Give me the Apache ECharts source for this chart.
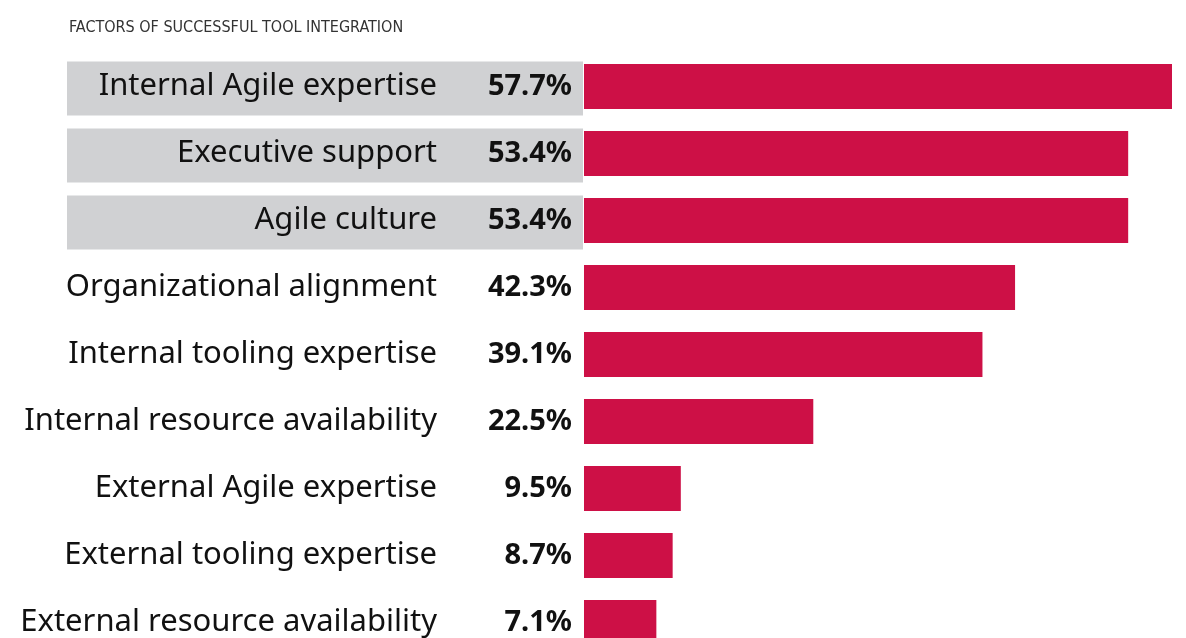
<!DOCTYPE html>
<html>
<head>
<meta charset="utf-8">
<script src="https://cdn.jsdelivr.net/npm/echarts@6/dist/echarts.min.js"></script>
<style>
  html, body { margin: 0; padding: 0; background: #fff; overflow: hidden; }
  /* taller than the window: the last row is cut off at the bottom edge */
  #chart { width: 1186px; height: 660px; }
</style>
</head>
<body>
<div id="chart"></div>
<script>
// factors, top to bottom
const categories = [
  "Internal Agile expertise",
  "Executive support",
  "Agile culture",
  "Organizational alignment",
  "Internal tooling expertise",
  "Internal resource availability",
  "External Agile expertise",
  "External tooling expertise",
  "External resource availability"
];
const values = [57.7, 53.4, 53.4, 42.3, 39.1, 22.5, 9.5, 8.7, 7.1];
// rows with the grey highlight box behind the label
const highlighted = [1, 1, 1, 0, 0, 0, 0, 0, 0];

const font = "'Noto Sans', Roboto, sans-serif";

const chartObj = echarts.init(document.getElementById("chart"));
const option = {
  animation: false,
  title: {
    text: "FACTORS OF SUCCESSFUL TOOL INTEGRATION",
    left: 64,
    top: 15,
    textStyle: {
      fontFamily: "'DejaVu Sans Condensed', 'DejaVu Sans', sans-serif",
      fontSize: 16,
      fontWeight: "normal",
      color: "#333"
    }
  },
  grid: [
    { left: 584, right: 14, top: 53, height: 603 },
    { left: 67, width: 516, top: 55, height: 603 }
  ],
  xAxis: [
    { gridIndex: 0, type: "value", min: 0, max: 57.7, show: false },
    { gridIndex: 1, type: "value", min: 0, max: 1, show: false }
  ],
  yAxis: [
    {
      gridIndex: 0,
      type: "category",
      inverse: true,
      data: categories,
      z: 10,
      axisLine: { show: false },
      axisTick: { show: false },
      splitLine: { show: false },
      axisLabel: {
        margin: 12,
        formatter: (value, index) => "{n|" + value + "}{v|" + values[index].toFixed(1) + "%}",
        rich: {
          n: { fontFamily: font, fontSize: 31, color: "#111", align: "right" },
          v: { fontFamily: font, fontSize: 29, fontWeight: "bold", color: "#111", width: 135, align: "right" }
        }
      }
    },
    {
      gridIndex: 1,
      type: "category",
      inverse: true,
      data: categories,
      show: false
    }
  ],
  series: [
    {
      type: "bar",
      xAxisIndex: 0,
      yAxisIndex: 0,
      data: values,
      barWidth: 45,
      z: 3,
      itemStyle: { color: "#cd1046" },
      silent: true
    },
    {
      type: "bar",
      xAxisIndex: 1,
      yAxisIndex: 1,
      data: highlighted,
      barWidth: 54,
      z: 1,
      itemStyle: { color: "#d0d1d3" },
      silent: true
    }
  ]
};
chartObj.setOption(option);
window.addEventListener("resize", function() {
  chartObj.resize();
});
</script>
</body>
</html>
